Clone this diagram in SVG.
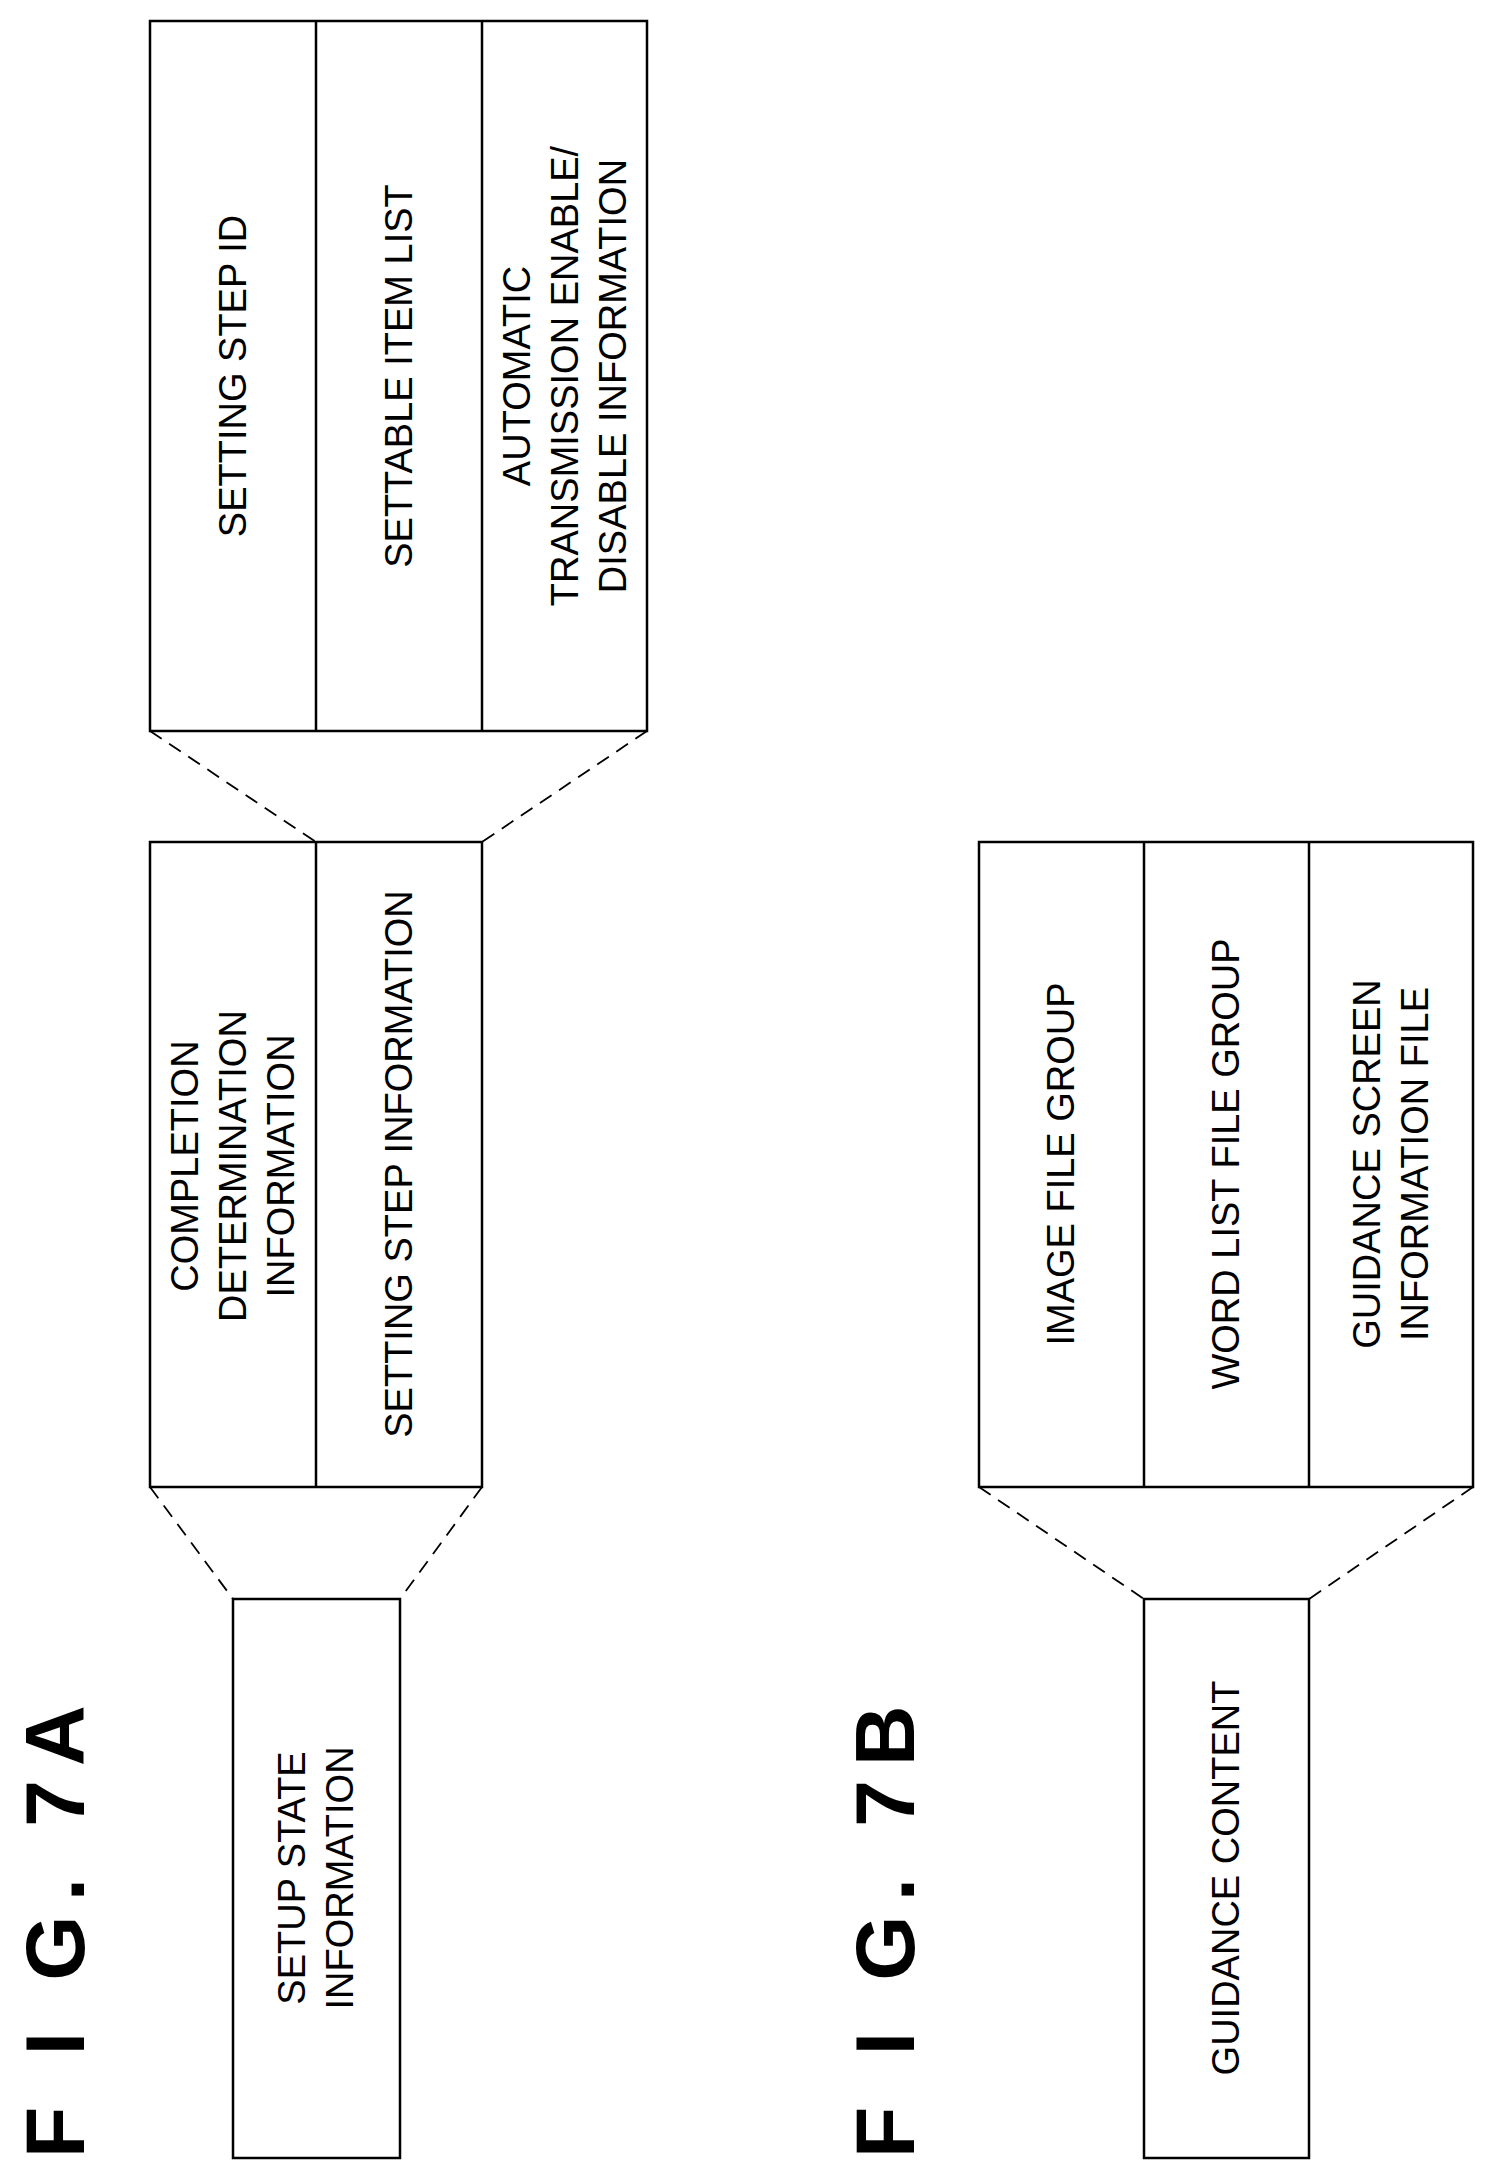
<svg xmlns="http://www.w3.org/2000/svg" width="1499" height="2179" viewBox="0 0 1499 2179">
<style>
.b{fill:none;stroke:#000;stroke-width:2.5}
.d{fill:none;stroke:#000;stroke-width:1.8;stroke-dasharray:14 9}
.t{font-family:"Liberation Sans",Arial,sans-serif;font-size:38px;fill:#000;text-anchor:middle}
.f{font-family:"Liberation Sans",Arial,sans-serif;font-size:84px;font-weight:bold;fill:#000;letter-spacing:14px}
</style>
<rect width="1499" height="2179" fill="#fff"/>
<text class="f" transform="translate(84,2158) rotate(-90)">F I G.  7A</text>
<text class="f" transform="translate(914,2158) rotate(-90)">F I G.  7B</text>
<g id="connectors">
<line class="d" x1="150" y1="731" x2="316" y2="842"/>
<line class="d" x1="647" y1="731" x2="482" y2="842"/>
<line class="d" x1="150" y1="1487" x2="233" y2="1599"/>
<line class="d" x1="482" y1="1487" x2="400" y2="1599"/>
<line class="d" x1="979" y1="1487" x2="1144" y2="1599"/>
<line class="d" x1="1473" y1="1487" x2="1309" y2="1599"/>
</g>
<g id="step-detail">
<rect class="b" x="150" y="21" width="497" height="710"/>
<line class="b" x1="316" y1="21" x2="316" y2="731"/>
<line class="b" x1="482" y1="21" x2="482" y2="731"/>
<text class="t" transform="translate(233,376) rotate(-90)" dy="13">SETTING STEP ID</text>
<text class="t" transform="translate(399,376) rotate(-90)" dy="13">SETTABLE ITEM LIST</text>
<text class="t" transform="translate(565,376) rotate(-90)"><tspan x="0" dy="-35">AUTOMATIC</tspan><tspan x="0" dy="48">TRANSMISSION ENABLE/</tspan><tspan x="0" dy="48">DISABLE INFORMATION</tspan></text>
</g>
<g id="setup-detail">
<rect class="b" x="150" y="842" width="332" height="645"/>
<line class="b" x1="316" y1="842" x2="316" y2="1487"/>
<text class="t" transform="translate(233,1166) rotate(-90)"><tspan x="0" dy="-35">COMPLETION</tspan><tspan x="0" dy="48">DETERMINATION</tspan><tspan x="0" dy="48">INFORMATION</tspan></text>
<text class="t" transform="translate(399,1164) rotate(-90)" dy="13">SETTING STEP INFORMATION</text>
</g>
<g id="setup-state">
<rect class="b" x="233" y="1599" width="167" height="559"/>
<text class="t" transform="translate(316,1878) rotate(-90)"><tspan x="0" dy="-11">SETUP STATE</tspan><tspan x="0" dy="48">INFORMATION</tspan></text>
</g>
<g id="guidance-detail">
<rect class="b" x="979" y="842" width="494" height="645"/>
<line class="b" x1="1144" y1="842" x2="1144" y2="1487"/>
<line class="b" x1="1309" y1="842" x2="1309" y2="1487"/>
<text class="t" transform="translate(1061,1164) rotate(-90)" dy="13">IMAGE FILE GROUP</text>
<text class="t" transform="translate(1226,1164) rotate(-90)" dy="13">WORD LIST FILE GROUP</text>
<text class="t" transform="translate(1391,1164) rotate(-90)"><tspan x="0" dy="-11">GUIDANCE SCREEN</tspan><tspan x="0" dy="48">INFORMATION FILE</tspan></text>
</g>
<g id="guidance-content">
<rect class="b" x="1144" y="1599" width="165" height="559"/>
<text class="t" transform="translate(1226,1878) rotate(-90)" dy="13">GUIDANCE CONTENT</text>
</g>
</svg>
